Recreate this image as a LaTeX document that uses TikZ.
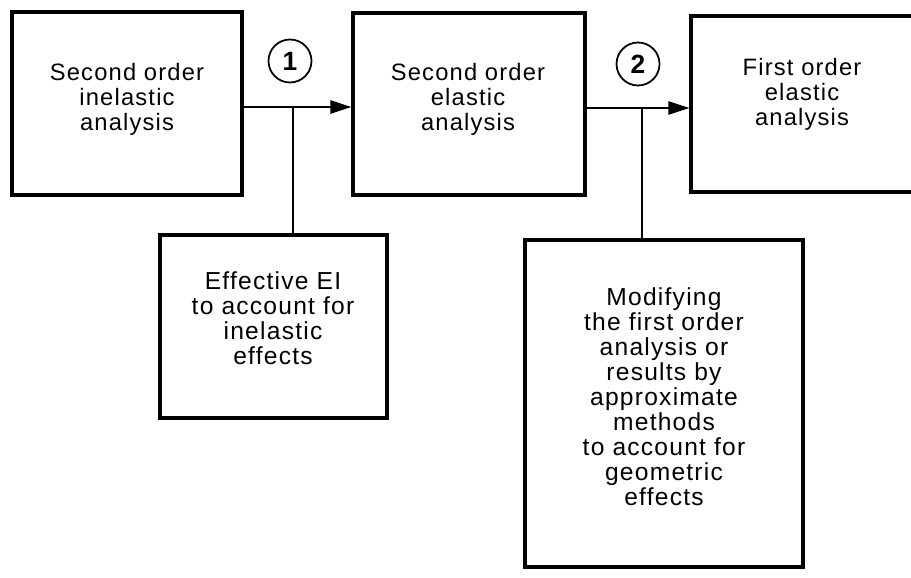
\documentclass[tikz,border=0pt]{standalone}
\usepackage{fontspec}
\setmainfont{Liberation Sans}[LetterSpace=5]
\usetikzlibrary{arrows.meta, positioning, calc}

\begin{document}
\begin{tikzpicture}[
    x=0.02cm, y=-0.02cm,
    kotak/.style={draw, line width=1.8pt, inner sep=0pt},
    teks/.style={align=center, font=\fontsize{13.5}{14.2}\selectfont},
    teksbawah/.style={align=center, font=\fontsize{14}{14.2}\selectfont},
    nomor/.style={draw, circle, line width=1pt, minimum size=0.86cm,
                  inner sep=0pt, font=\fontsize{15}{15}\selectfont\bfseries},
    panah/.style={-{Triangle[length=12pt, width=7.5pt]}, line width=1.2pt},
    garis/.style={line width=0.8pt}
  ]
    \useasboundingbox (0,0) rectangle (911,577);
    % kotak atas
    \node[kotak, minimum width=4.6cm, minimum height=3.66cm] (b1) at (127,103.5) {};
    \node[kotak, minimum width=4.64cm, minimum height=3.64cm] (b2) at (469,104) {};
    \node[kotak, minimum width=4.48cm, minimum height=3.52cm] (b3) at (803,104) {};
    \node[teks] (t1) at (127,99) {Second order\\inelastic\\analysis};
    \node[teks] (t2) at (468,99) {Second order\\elastic\\analysis};
    \node[teks] (t3) at (802,94) {First order\\elastic\\analysis};
    % kotak bawah
    \node[kotak, minimum width=4.54cm, minimum height=3.66cm] (b4) at (273.5,326.5) {};
    \node[kotak, minimum width=5.56cm, minimum height=6.54cm] (b5) at (664,403.5) {};
    \node[teksbawah] (t4) at (273,318)
      {Effective EI\\to account for\\inelastic\\effects};
    \node[teksbawah] (t5) at (664,397)
      {Modifying\\the first order\\analysis or\\results by\\approximate\\methods\\to account for\\geometric\\effects};
    % nomor
    \node[nomor] (n1) at (290,61) {1};
    \node[nomor] (n2) at (638,64) {2};
    % panah
    \coordinate (j1) at (293,107);
    \coordinate (j2) at (642,108);
    \draw[panah] (b1.east |- j1) -- (b2.west |- j1);
    \draw[panah] (b2.east |- j2) -- (b3.west |- j2);
    \draw[garis] (j1) -- (j1 |- b4.north);
    \draw[garis] (j2) -- (j2 |- b5.north);
  \end{tikzpicture}
\end{document}
